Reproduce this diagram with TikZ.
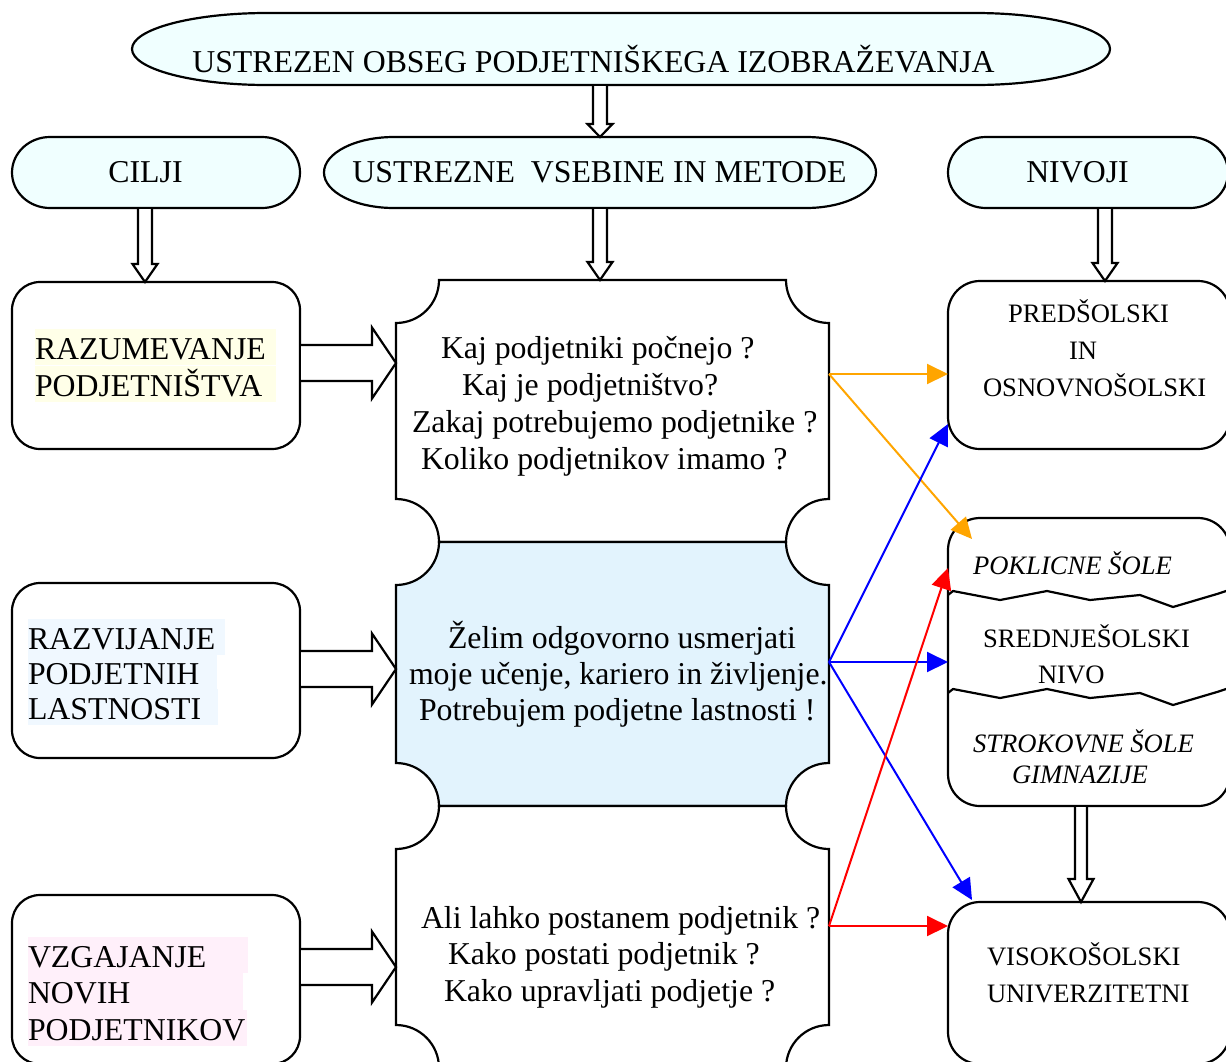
\documentclass[tikz,border=0pt]{standalone}
\usepackage{fontspec}
\setmainfont{Liberation Serif}
\usetikzlibrary{calc,arrows.meta}
\setlength\fboxsep{0pt}

\definecolor{capfill}{RGB}{240,255,255}
\definecolor{midfill}{RGB}{226,243,253}
\definecolor{hlyellow}{RGB}{255,255,232}
\definecolor{hlblue}{RGB}{240,248,255}
\definecolor{hlpink}{RGB}{255,240,250}
\definecolor{arrorange}{RGB}{255,165,0}

\newcommand\bodyfont{\fontsize{31.8pt}{37pt}\selectfont}
\newcommand\levelfont{\fontsize{26.6pt}{37pt}\selectfont}

% left-aligned stack of lines; the baseline is that of the first line
\newcommand\linestack[2]{\vtop{\baselineskip=#1\lineskiplimit=-\maxdimen\halign{##\hfil\cr#2\crcr}}}
% one highlighted line of fixed width
\newcommand\hlline[3]{\colorbox{#1}{\makebox[#2][l]{\rule[-6pt]{0pt}{36.5pt}#3}}}

% capsule with elliptical ends, drawn round a node: node, end x radius, end y radius, style
\newcommand\capsule[4]{%
  \draw[#4] ($(#1.north east)+(-#2,0)$)
    .. controls ($(#1.north east)+(-0.4477*#2,0)$) and ($(#1.east)+(0,-0.5523*#3)$) .. (#1.east)
    .. controls ($(#1.east)+(0,0.5523*#3)$) and ($(#1.south east)+(-0.4477*#2,0)$) .. ($(#1.south east)+(-#2,0)$)
    -- ($(#1.south west)+(#2,0)$)
    .. controls ($(#1.south west)+(0.4477*#2,0)$) and ($(#1.west)+(0,0.5523*#3)$) .. (#1.west)
    .. controls ($(#1.west)+(0,-0.5523*#3)$) and ($(#1.north west)+(0.4477*#2,0)$) .. ($(#1.north west)+(#2,0)$)
    -- cycle;}

% plaque with concave quarter-circle corners round a node: node, style
\newcommand\plaque[2]{%
  \draw[#2] ($(#1.north west)+(43,0)$) -- ($(#1.north east)+(-43,0)$)
    .. controls ($(#1.north east)+(-43,23.75)$) and ($(#1.north east)+(-23.75,43)$) .. ($(#1.north east)+(0,43)$)
    -- ($(#1.south east)+(0,-43)$)
    .. controls ($(#1.south east)+(-23.75,-43)$) and ($(#1.south east)+(-43,-23.75)$) .. ($(#1.south east)+(-43,0)$)
    -- ($(#1.south west)+(43,0)$)
    .. controls ($(#1.south west)+(43,-23.75)$) and ($(#1.south west)+(23.75,-43)$) .. ($(#1.south west)+(0,-43)$)
    -- ($(#1.north west)+(0,43)$)
    .. controls ($(#1.north west)+(23.75,43)$) and ($(#1.north west)+(43,23.75)$) .. ($(#1.north west)+(43,0)$)
    -- cycle;}

% hollow block arrow pointing down: x reference, source node, target node, shaft half width, head length
\newcommand\blockdown[5]{%
  \draw[blockarrow] let \p1=(#1 |- #2.south), \p2=(#1 |- #3.north) in
    (\x1-#4,\y1-1pt) -- (\x1-#4,\y2+#5) -- (\x1-12.5pt,\y2+#5) -- (\x1,\y2)
    -- (\x1+12.5pt,\y2+#5) -- (\x1+#4,\y2+#5) -- (\x1+#4,\y1-1pt);}

% hollow block arrow pointing right: y reference, source node, target node
\newcommand\blockright[3]{%
  \draw[blockarrow] let \p1=(#2.east |- #1), \p2=(#3.west |- #1) in
    (\x1+1pt,\y1+18pt) -- (\x2-24pt,\y1+18pt) -- (\x2-24pt,\y1+35.5pt) -- (\x2,\y1)
    -- (\x2-24pt,\y1-35.5pt) -- (\x2-24pt,\y1-18pt) -- (\x1+1pt,\y1-18pt);}

\tikzset{
  plainbox/.style={rectangle, inner sep=0pt, outer sep=0pt},
  outline/.style={draw=black, line width=2.2pt},
  lbox/.style={plainbox, outline, rounded corners=28pt, fill=white},
  rbox/.style={plainbox, outline, rounded corners=32pt, fill=white},
  txt/.style={inner sep=0pt, outer sep=0pt, anchor=base west, font=\bodyfont},
  lvl/.style={txt, font=\levelfont},
  lvlit/.style={txt, font=\levelfont\itshape},
  blockarrow/.style={draw=black, fill=white, line width=2.2pt},
  carrow/.style={line width=2pt, -{Triangle[length=21pt,width=20pt]}},
  wave/.style={line width=2.2pt, line join=round}
}

\begin{document}
\begin{tikzpicture}[x=1pt, y=-1pt]
\useasboundingbox (0,0) rectangle (1226,1061);
\clip (0,0) rectangle (1226,1061);

% headings
\node[plainbox, minimum width=978pt, minimum height=72pt] (obseg) at (621,49) {};
\capsule{obseg}{135}{36}{outline, fill=capfill}
\node[plainbox, minimum width=288pt, minimum height=71pt] (cilji) at (156,172.5) {};
\capsule{cilji}{38}{35.5}{outline, fill=capfill}
\node[plainbox, minimum width=552pt, minimum height=71pt] (vsebine) at (600,172.5) {};
\capsule{vsebine}{70}{35.5}{outline, fill=capfill}
\node[plainbox, minimum width=280pt, minimum height=71pt] (nivoji) at (1088,172.5) {};
\capsule{nivoji}{38}{35.5}{outline, fill=capfill}

% goals
\node[lbox, minimum width=288pt, minimum height=167pt] (razum) at (156,365.5) {};
\node[lbox, minimum width=288pt, minimum height=175pt] (razvoj) at (156,670.5) {};
\node[lbox, minimum width=288pt, minimum height=169pt] (vzgoja) at (156,979.5) {};

% contents and methods
\node[plainbox, minimum width=433pt, minimum height=262pt] (vpr1) at (612.5,411) {};
\node[plainbox, minimum width=433pt, minimum height=264pt] (vpr2) at (612.5,674) {};
\node[plainbox, minimum width=433pt, minimum height=262pt] (vpr3) at (612.5,937) {};
\plaque{vpr1}{outline, fill=white}
\plaque{vpr2}{outline, fill=midfill}
\plaque{vpr3}{outline, fill=white}

% levels
\node[rbox, minimum width=282pt, minimum height=168pt] (pred) at (1089,365) {};
\node[rbox, minimum width=282pt, minimum height=288pt] (sred) at (1089,662) {};
\node[rbox, minimum width=282pt, minimum height=162pt] (viso) at (1089,983) {};
\draw[wave] (948,595) -- (953,591) -- (1000,600) -- (1047,591) -- (1090,600)
  -- (1140,595) -- (1173,607) -- (1217,594) -- (1232,589);
\draw[wave, shift={(0,98)}] (948,595) -- (953,591) -- (1000,600) -- (1047,591) -- (1090,600)
  -- (1140,595) -- (1173,607) -- (1217,594) -- (1232,589);

% hollow block arrows
\coordinate (axmid) at (600,0);
\coordinate (axleft) at (145,0);
\coordinate (axniv) at (1105,0);
\coordinate (axsred) at (1081,0);
\blockdown{axmid}{obseg}{vsebine}{7pt}{13pt}
\blockdown{axleft}{cilji}{razum}{7pt}{18pt}
\blockdown{axmid}{vsebine}{vpr1}{7pt}{18pt}
\blockdown{axniv}{nivoji}{pred}{7pt}{18pt}
\blockdown{axsred}{sred}{viso}{6pt}{23pt}

\coordinate (ayrazum) at (0,363);
\coordinate (ayrazvoj) at (0,669);
\coordinate (ayvzgoja) at (0,967);
\blockright{ayrazum}{razum}{vpr1}
\blockright{ayrazvoj}{razvoj}{vpr2}
\blockright{ayvzgoja}{vzgoja}{vpr3}

% coloured links to the levels
\coordinate (oy) at (0,374);
\coordinate (oend) at (972,539);
\draw[carrow, arrorange] (vpr1.east |- oy) -- (pred.west |- oy);
\draw[carrow, arrorange] (vpr1.east |- oy) -- (oend);

\coordinate (by) at (0,662);
\coordinate (bpred) at (0,424);
\coordinate (bend) at (972,900);
\draw[carrow, blue] (vpr2.east |- by) -- (sred.west |- by);
\draw[carrow, blue] (vpr2.east |- by) -- (pred.west |- bpred);
\draw[carrow, blue] (vpr2.east |- by) -- (bend);

\coordinate (ry) at (0,926);
\coordinate (rsred) at (0,568);
\draw[carrow, red] (vpr3.east |- ry) -- (viso.west |- ry);
\draw[carrow, red] (vpr3.east |- ry) -- (sred.west |- rsred);

% texts
\node[txt, anchor=base] (tobseg) at (593.5,72) {USTREZEN OBSEG PODJETNIŠKEGA IZOBRAŽEVANJA};
\node[txt, anchor=base] (tcilji) at (145.5,182) {CILJI};
\node[txt, anchor=base] (tvsebine) at (599.5,182) {USTREZNE\ \ VSEBINE IN METODE};
\node[txt, anchor=base] (tnivoji) at (1077.5,182) {NIVOJI};

\node[txt] (trazum) at (35,359) {\linestack{37pt}{\hlline{hlyellow}{241pt}{RAZUMEVANJE}\cr
  \hlline{hlyellow}{241pt}{PODJETNIŠTVA}}};
\node[txt] (trazvoj) at (28,649) {\linestack{35pt}{\hlline{hlblue}{197pt}{RAZVIJANJE}\cr
  \hlline{hlblue}{189pt}{PODJETNIH}\cr\hlline{hlblue}{190pt}{LASTNOSTI}}};
\node[txt] (tvzgoja) at (28,967) {\linestack{36.5pt}{\hlline{hlpink}{220pt}{VZGAJANJE}\cr
  \hlline{hlpink}{215pt}{NOVIH}\cr\hlline{hlpink}{219pt}{PODJETNIKOV}}};

\node[txt] (tvpr1) at (412,358) {\linestack{37pt}{\hspace*{29pt}Kaj podjetniki počnejo ?\cr
  \hspace*{50pt}Kaj je podjetništvo?\cr
  Zakaj potrebujemo podjetnike ?\cr
  \hspace*{9pt}Koliko podjetnikov imamo ?}};
\node[txt] (tvpr2) at (409,648) {\linestack{36pt}{\hspace*{39pt}Želim odgovorno usmerjati\cr
  moje učenje, kariero in življenje.\cr
  \hspace*{10pt}Potrebujem podjetne lastnosti !}};
\node[txt] (tvpr3) at (421,928) {\linestack{36.7pt}{Ali lahko postanem podjetnik ?\cr
  \hspace*{27pt}Kako postati podjetnik ?\cr
  \hspace*{23pt}Kako upravljati podjetje ?}};

\node[lvl] (tpred) at (983,322) {\linestack{37pt}{\hspace*{25pt}PREDŠOLSKI\cr
  \hspace*{86pt}IN\cr OSNOVNOŠOLSKI}};
\node[lvlit] (tpokl) at (973,574) {POKLICNE ŠOLE};
\node[lvl] (tsred) at (983,647) {\linestack{36pt}{SREDNJEŠOLSKI\cr\hspace*{55pt}NIVO}};
\node[lvlit] (tstrok) at (973,752) {\linestack{31pt}{STROKOVNE ŠOLE\cr\hspace*{39pt}GIMNAZIJE}};
\node[lvl] (tviso) at (987,965) {\linestack{37pt}{VISOKOŠOLSKI\cr UNIVERZITETNI}};
\end{tikzpicture}
\end{document}
